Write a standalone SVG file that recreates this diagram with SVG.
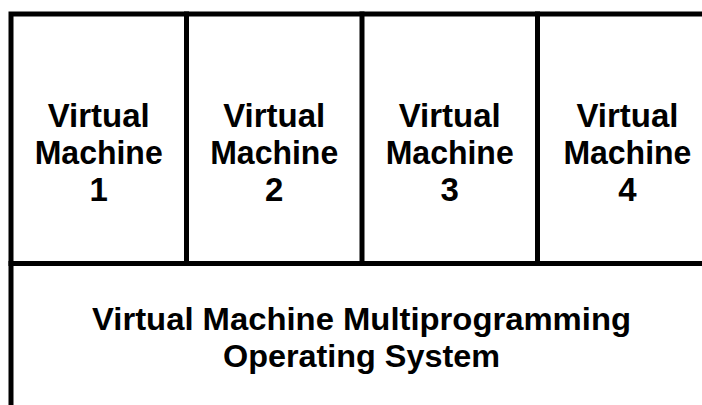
<svg xmlns="http://www.w3.org/2000/svg" width="702" height="405" viewBox="0 0 702 405">
<style>
.ln{stroke:#000;stroke-width:5;fill:none;stroke-linecap:square}
.t{font-family:"Liberation Sans",Arial,sans-serif;font-weight:bold;font-size:33px;fill:#000;text-anchor:middle}
.b{font-size:31px}
</style>
<rect width="702" height="405" fill="#fff"/>
<g id="connectors">
<path class="ln" d="M11,405 L11,14 L702,14"/>
<path class="ln" d="M11,263.5 L702,263.5"/>
<path class="ln" d="M186.5,14 L186.5,263.5"/>
<path class="ln" d="M362,14 L362,263.5"/>
<path class="ln" d="M537.5,14 L537.5,263.5"/>
</g>
<g id="vm1">
<text class="t" x="98.7" y="127" textLength="102" lengthAdjust="spacingAndGlyphs">Virtual</text>
<text class="t" x="98.7" y="163.5" textLength="128" lengthAdjust="spacingAndGlyphs">Machine</text>
<text class="t" x="98.7" y="201">1</text>
</g>
<g id="vm2">
<text class="t" x="274.2" y="127" textLength="102" lengthAdjust="spacingAndGlyphs">Virtual</text>
<text class="t" x="274.2" y="163.5" textLength="128" lengthAdjust="spacingAndGlyphs">Machine</text>
<text class="t" x="274.2" y="201">2</text>
</g>
<g id="vm3">
<text class="t" x="449.7" y="127" textLength="102" lengthAdjust="spacingAndGlyphs">Virtual</text>
<text class="t" x="449.7" y="163.5" textLength="128" lengthAdjust="spacingAndGlyphs">Machine</text>
<text class="t" x="449.7" y="201">3</text>
</g>
<g id="vm4">
<text class="t" x="627.4" y="127" textLength="102" lengthAdjust="spacingAndGlyphs">Virtual</text>
<text class="t" x="627.4" y="163.5" textLength="128" lengthAdjust="spacingAndGlyphs">Machine</text>
<text class="t" x="627.4" y="201">4</text>
</g>
<g id="os">
<text class="t b" x="361.5" y="330" textLength="539" lengthAdjust="spacingAndGlyphs">Virtual Machine Multiprogramming</text>
<text class="t b" x="361.5" y="367" textLength="277" lengthAdjust="spacingAndGlyphs">Operating System</text>
</g>
</svg>
